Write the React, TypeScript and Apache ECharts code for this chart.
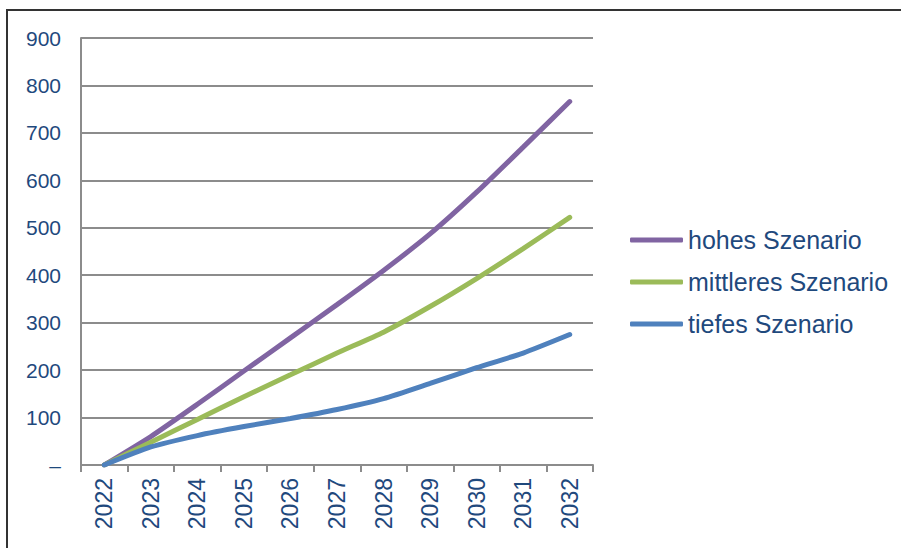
import React, { useEffect, useRef } from "react";
import * as echarts from "echarts";

const years = ["2022", "2023", "2024", "2025", "2026", "2027", "2028", "2029", "2030", "2031", "2032"];
const hohes = [0, 60, 128, 198, 268, 338, 410, 487, 575, 670, 766];
const mittleres = [0, 48, 96, 144, 190, 236, 280, 334, 393, 456, 522];
const tiefes = [0, 38, 62, 81, 98, 117, 140, 172, 205, 236, 275];
const seriesNames = ["hohes Szenario", "mittleres Szenario", "tiefes Szenario"];
const colors = ["#8064A2", "#9BBB59", "#4F81BD"];

const textColor = "#1F497D";
const font = "'Liberation Sans', Arial, sans-serif";

export default function App() {
  const ref = useRef<HTMLDivElement>(null);
  useEffect(() => {
    if (!ref.current) return;
    const chart = echarts.init(ref.current, undefined, { renderer: "svg" });
    const data = [hohes, mittleres, tiefes];
    chart.setOption({
      animation: false,
      backgroundColor: "#ffffff",
      graphic: [
        {
          type: "rect",
          shape: { x: 7, y: 10, width: 1000, height: 1000 },
          style: { fill: "none", stroke: "#333333", lineWidth: 2 },
          silent: true,
        },
      ],
      grid: { left: 81, right: 308, top: 38, bottom: 83 },
      legend: {
        orient: "vertical",
        left: 625,
        top: 221,
        itemWidth: 53,
        itemHeight: 5,
        itemGap: 14,
        icon: "roundRect",
        data: seriesNames,
        textStyle: { color: textColor, fontSize: 25, fontFamily: font, lineHeight: 28 },
      },
      xAxis: {
        type: "category",
        data: years,
        boundaryGap: true,
        axisLine: { lineStyle: { color: "#8c8c8c", width: 2 } },
        axisTick: { show: true, length: 7, lineStyle: { color: "#8c8c8c", width: 2 } },
        axisLabel: { rotate: 90, color: textColor, fontSize: 23, fontFamily: font, margin: 13 },
        splitLine: { show: false },
      },
      yAxis: {
        type: "value",
        min: 0,
        max: 900,
        interval: 100,
        axisLine: { show: true, lineStyle: { color: "#8c8c8c", width: 2 } },
        axisTick: { show: false },
        axisLabel: {
          color: textColor,
          fontSize: 21,
          fontFamily: font,
          margin: 20,
          formatter: (v: number) => (v === 0 ? "–" : String(v)),
        },
        splitLine: { lineStyle: { color: "#8c8c8c", width: 2 } },
      },
      series: seriesNames.map((name, i) => ({
        name,
        type: "line",
        data: data[i],
        smooth: 0.2,
        symbol: "none",
        lineStyle: { color: colors[i], width: 5, cap: "round" },
        itemStyle: { color: colors[i] },
      })),
    });
    return () => chart.dispose();
  }, []);
  return (
    <div
      ref={ref}
      style={{ position: "fixed", left: 0, top: 0, width: 901, height: 548 }}
    />
  );
}
